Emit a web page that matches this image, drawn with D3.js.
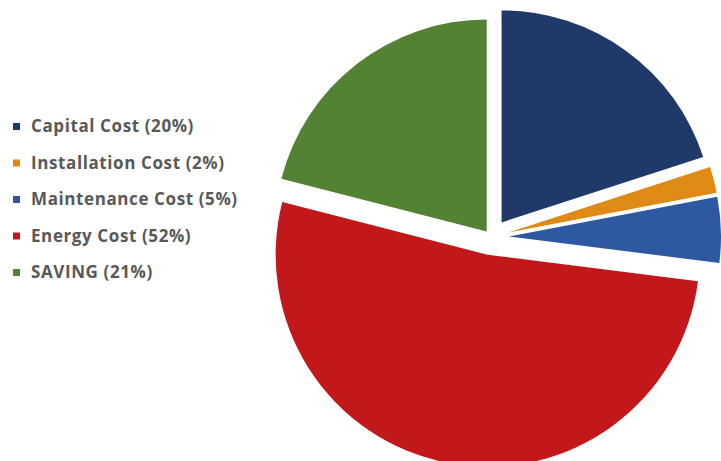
<!DOCTYPE html>
<html>
<head>
<meta charset="utf-8">
<script src="https://cdn.jsdelivr.net/npm/d3@7"></script>
<style>
  body { margin: 0; background: #fff; }
  svg { display: block; }
</style>
</head>
<body>
<div id="chart"></div>
<script>
// chart data
const categories = ["Capital Cost", "Installation Cost", "Maintenance Cost", "Energy Cost", "SAVING"];
const shares = [20, 2, 5, 52, 21];
const colors = ["#1f3a68", "#df8a14", "#2e58a0", "#c2171b", "#548235"];

const width = 721, height = 461;
const cx = 491, cy = 237, radius = 212;
// explode distance, the saving slice sits closer to the centre
const explode = { "SAVING": 7 };
const defaultExplode = 18;

const svg = d3.select("#chart")
  .append("svg")
  .attr("width", width)
  .attr("height", height);

const data = categories.map((c, i) => ({ name: c, value: shares[i], color: colors[i] }));

const pie = d3.pie()
  .sort(null)
  .value(d => d.value);

const arc = d3.arc()
  .innerRadius(0)
  .outerRadius(radius);

const g = svg.append("g")
  .attr("transform", "translate(" + cx + "," + cy + ")");

g.selectAll("path")
  .data(pie(data))
  .enter()
  .append("path")
  .attr("d", arc)
  .attr("fill", d => d.data.color)
  .attr("transform", function (d) {
    let mid = (d.startAngle + d.endAngle) / 2;
    let off = explode[d.data.name] !== undefined ? explode[d.data.name] : defaultExplode;
    return "translate(" + (Math.sin(mid) * off) + "," + (-Math.cos(mid) * off) + ")";
  });

// legend
const legendY = d3.scalePoint()
  .domain(categories)
  .range([126, 272]);

const legend = svg.append("g");

const item = legend.selectAll("g")
  .data(data)
  .enter()
  .append("g")
  .attr("transform", d => "translate(13," + legendY(d.name) + ")");

item.append("rect")
  .attr("x", 0)
  .attr("y", -3)
  .attr("width", 7)
  .attr("height", 7)
  .attr("fill", d => d.color);

item.append("text")
  .attr("x", 18)
  .attr("y", 0)
  .attr("dy", "0.36em")
  .attr("font-family", "'Open Sans', Lato, sans-serif")
  .attr("font-weight", "bold")
  .attr("font-size", 17)
  .attr("letter-spacing", 0.6)
  .attr("fill", "#595959")
  .text(d => d.name + " (" + d.value + "%)");
</script>
</body>
</html>
